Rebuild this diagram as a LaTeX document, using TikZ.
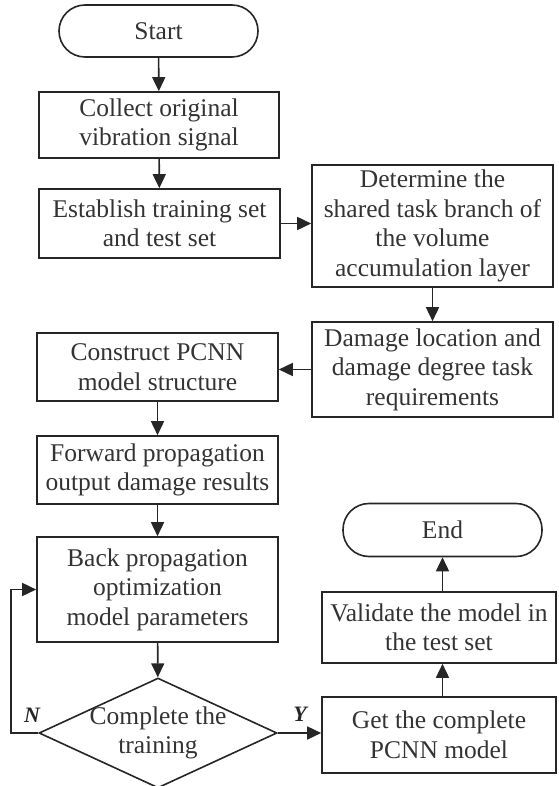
\documentclass[tikz,border=0pt]{standalone}
\usepackage{fontspec}
\setmainfont{Liberation Serif}
\usetikzlibrary{arrows.meta, shapes.geometric, positioning}

\begin{document}
\begin{tikzpicture}[x=1pt, y=-1pt,
  box/.style={draw=black!85, line width=1.6pt, text=black!80, align=center,
    font=\fontsize{25.5}{29.5}\selectfont, inner sep=0pt},
  term/.style={box, rounded corners=26pt},
  arr/.style={draw=black!85, line width=1.6pt, -{Triangle[length=14pt,width=13pt]}},
  yn/.style={font=\fontsize{22}{22}\selectfont\bfseries\itshape, text=black!85}]
\useasboundingbox (0,0) rectangle (558,786);

% Left column
\node[term, minimum width=199pt, minimum height=52pt] (start) at (158.5,31) {Start};
\node[box, minimum width=240pt, minimum height=66pt] (collect) at (159,125) {Collect original\\vibration signal};
\node[box, minimum width=241pt, minimum height=69pt] (establish) at (159.5,223.5) {Establish training set\\and test set};
\node[box, minimum width=241pt, minimum height=68pt] (construct) at (157.5,367) {Construct PCNN\\model structure};
\node[box, minimum width=241pt, minimum height=68pt] (forward) at (157.5,470) {Forward propagation\\output damage results};
\node[box, minimum width=241pt, minimum height=105pt] (back) at (157.5,589.5) {Back propagation\\optimization\\model parameters};
\node[draw=black!85, line width=1.6pt, diamond, minimum width=238pt, minimum height=110pt, inner sep=0pt] (check) at (158,733) {};
\node[box, draw=none] (checktext) at (check.center) {Complete the\\training};

% Right column
\node[box, minimum width=241pt, minimum height=122pt] (determine) at (432.5,226) {Determine the\\shared task branch of\\the volume\\accumulation layer};
\node[box, minimum width=241pt, minimum height=95pt] (damage) at (432.5,369.5) {Damage location and\\damage degree task\\requirements};
\node[term, minimum width=199pt, minimum height=53pt] (endnode) at (442.5,530) {End};
\node[box, minimum width=234pt, minimum height=71pt] (validate) at (439,627.5) {Validate the model in\\the test set};
\node[box, minimum width=234pt, minimum height=76pt] (get) at (439,735) {Get the complete\\PCNN model};

% Connectors
\draw[arr] (start) -- (collect);
\draw[arr] (collect) -- (establish);
\draw[arr] (establish.east) -- (establish.east -| determine.west);
\draw[arr] (determine) -- (damage);
\draw[arr] (damage.west) -- (damage.west -| construct.east);
\draw[arr] (construct) -- (forward);
\draw[arr] (forward) -- (back);
\draw[arr] (back) -- (check);
\draw[arr] (check.west) -- ++(-27,0) |- (back.west);
\draw[arr] (check.east) -- (check.east -| get.west);
\draw[arr] (endnode.south |- get.north) -- (endnode.south |- validate.south);
\draw[arr] (endnode.south |- validate.north) -- (endnode.south);

% Labels
\node[yn] (nlabel) at (32,715) {N};
\node[yn] (ylabel) at (300,714) {Y};
\end{tikzpicture}
\end{document}
